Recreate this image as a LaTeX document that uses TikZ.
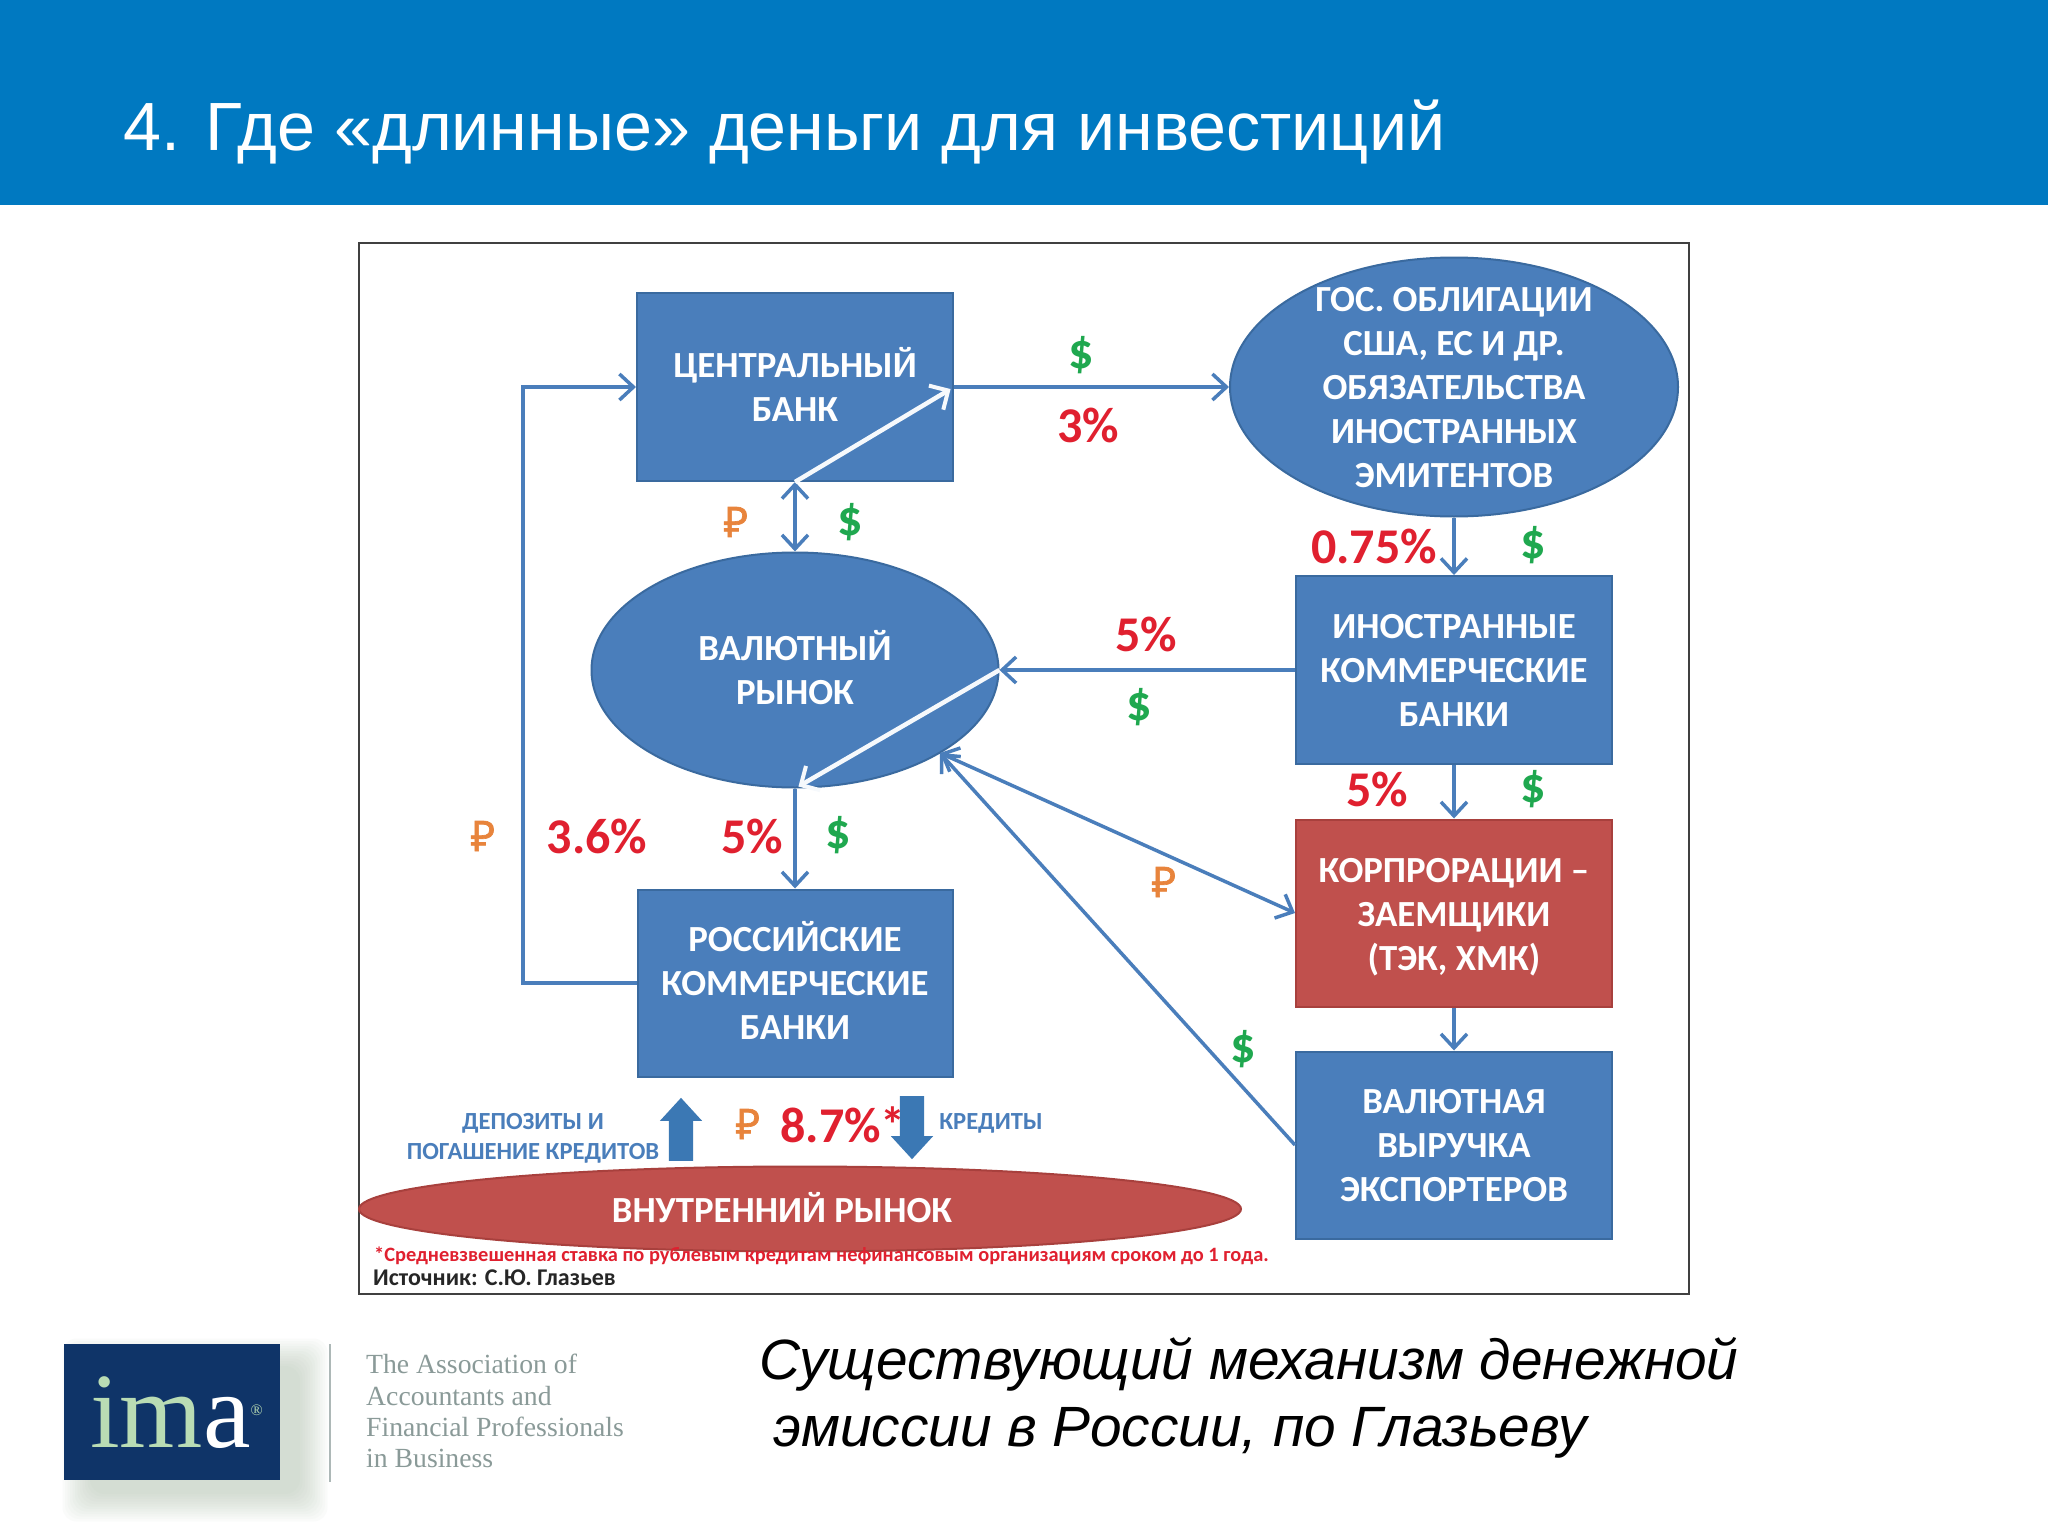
\documentclass[tikz,border=0pt]{standalone}
\usepackage{fontspec}
\setmainfont{Liberation Sans}
\newfontfamily\calb{Carlito}
\newfontfamily\rub[FakeBold=1.6]{Noto Sans}
\newfontfamily\serifb{Liberation Serif}
\usetikzlibrary{arrows.meta,shapes.geometric,shapes.arrows}
\definecolor{hdr}{HTML}{0079C1}
\definecolor{boxb}{HTML}{4A7EBB}
\definecolor{boxl}{HTML}{3A6A9F}
\definecolor{blka}{HTML}{3B78B4}
\definecolor{redb}{HTML}{C0504D}
\definecolor{redl}{HTML}{A8403D}
\definecolor{txtr}{HTML}{E0202F}
\definecolor{txtg}{HTML}{1FA84F}
\definecolor{txto}{HTML}{E8843C}
\definecolor{navy}{HTML}{0F3468}
\definecolor{lgr}{HTML}{B9DCB4}
\definecolor{gryt}{HTML}{8A9A98}
\tikzset{
  x=1pt,y=-1pt,
  bt/.style={font=\calb\bfseries\fontsize{36.8}{44}\selectfont,text=white,align=center,inner sep=0pt},
  blockbox/.style={draw=boxl,line width=2pt,fill=boxb,inner sep=0pt,bt},
  blue ell/.style={ellipse,draw=boxl,line width=2pt,fill=boxb,inner sep=0pt},
  conn/.style={draw=boxb,line width=3.5pt,-{Straight Barb[length=14pt,width=26pt,line width=3.5pt]}},
  conn2/.style={draw=boxb,line width=3.5pt,{Straight Barb[length=14pt,width=26pt,line width=3.5pt]}-{Straight Barb[length=14pt,width=26pt,line width=3.5pt]}},
  wconn/.style={draw=white!95!boxb,line width=4.5pt,shorten >=4pt,-{Straight Barb[length=14pt,width=28pt,line width=4pt]}},
  pct/.style={font=\calb\bfseries\fontsize{50}{54}\selectfont,text=txtr,inner sep=0pt},
  dol/.style={font=\calb\bfseries\fontsize{50}{50}\selectfont,text=txtg,inner sep=0pt},
  rb/.style={font=\rub\fontsize{42}{44}\selectfont,text=txto,inner sep=0pt},
  bluet/.style={font=\calb\bfseries\fontsize{24.6}{30}\selectfont,text=boxb,inner sep=0pt},
  block up/.style={single arrow,fill=blka,draw=none,minimum height=63pt,minimum width=0pt,inner xsep=0pt,inner ysep=12pt,single arrow head extend=9pt,single arrow tip angle=85},
  logot/.style={font=\serifb\fontsize{27.7}{31}\selectfont,text=gryt,inner sep=0pt,anchor=west},
}
\begin{document}
\begin{tikzpicture}
\useasboundingbox (0,0) rectangle (2048,1536);
\fill[white] (0,0) rectangle (2048,1536);
\fill[hdr] (0,0) rectangle (2048,205);
\node[anchor=west,text=white,inner sep=0pt,font=\fontsize{68.2}{72}\selectfont] (title) at (123,132) {4. Где «длинные» деньги для инвестиций};
\draw[line width=2pt,draw=black!75] (359,243) rectangle (1689,1294);
% shapes
\node[blockbox,minimum width=316pt,minimum height=188pt] (cb) at (795,387) {};
\node[bt] (cbt) at (795,384) {ЦЕНТРАЛЬНЫЙ\\БАНК};
\node[blue ell,minimum width=448pt,minimum height=259pt] (gos) at (1454,387) {};
\node[bt] (gost) at (1454,388) {ГОС. ОБЛИГАЦИИ\\США, ЕС И ДР.\\ОБЯЗАТЕЛЬСТВА\\ИНОСТРАННЫХ\\ЭМИТЕНТОВ};
\node[blue ell,minimum width=407pt,minimum height=235pt] (val) at (795,670) {};
\node[bt] (valt) at (795,668) {ВАЛЮТНЫЙ\\РЫНОК};
\node[blockbox,minimum width=316pt,minimum height=188pt] (fb) at (1454,670) {};
\node[bt] (fbt) at (1454,670) {ИНОСТРАННЫЕ\\КОММЕРЧЕСКИЕ\\БАНКИ};
\node[blockbox,draw=redl,fill=redb,minimum width=316pt,minimum height=187pt] (corp) at (1454,913) {};
\node[bt] (corpt) at (1454,917) {КОРПРОРАЦИИ –\\ЗАЕМЩИКИ\\(ТЭК, ХМК)};
\node[blockbox,minimum width=316pt,minimum height=187pt] (exp) at (1454,1145) {};
\node[bt] (expt) at (1454,1146) {ВАЛЮТНАЯ\\ВЫРУЧКА\\ЭКСПОРТЕРОВ};
\node[blockbox,minimum width=315pt,minimum height=187pt] (rus) at (795,983) {};
\node[bt] (rust) at (795,980) {РОССИЙСКИЕ\\КОММЕРЧЕСКИЕ\\БАНКИ};
\node[ellipse,draw=redl,line width=2pt,fill=redb,inner sep=0pt,minimum width=882pt,minimum height=85pt] (inner) at (800,1209) {};
\node[bt] (innert) at (782,1208) {ВНУТРЕННИЙ РЫНОК};
% connectors
\coordinate (valse) at (940,753);
\coordinate (ccorner) at (523,983);
\coordinate (ccorner2) at (523,387);
\draw[conn] (cb.east) -- (gos.west);
\draw[conn] (rus.west) -- (ccorner) -- (ccorner2) -- (cb.west);
\draw[conn2] (cb.south) -- (val.north);
\draw[wconn] (cb.south) -- (cb.east);
\draw[conn] (gos.south) -- (fb.north);
\draw[conn] (fb.west) -- (val.east);
\draw[conn] (val.south) -- (rus.north);
\draw[wconn] (val.east) -- (val.south);
\draw[conn] (fb.south) -- (corp.north);
\draw[conn] (corp.south) -- (exp.north);
\draw[conn2] (valse) -- (corp.west);
\draw[conn] (exp.west) -- (valse);
% labels
\node[dol] (l1) at (1081,355) {\$};
\node[pct] (l2) at (1088,425) {3\%};
\node[rb] (l3) at (736,522) {₽};
\node[dol] (l4) at (850,522) {\$};
\node[pct] (l5) at (1374,546) {0.75\%};
\node[dol] (l6) at (1533,545) {\$};
\node[pct] (l7) at (1146,634) {5\%};
\node[dol] (l8) at (1139,707) {\$};
\node[pct] (l9) at (1377,789) {5\%};
\node[dol] (l10) at (1533,789) {\$};
\node[rb] (l11) at (1164,882) {₽};
\node[dol] (l12) at (1243,1049) {\$};
\node[rb] (l13) at (483,836) {₽};
\node[pct] (l14) at (597,836) {3.6\%};
\node[pct] (l15) at (752,836) {5\%};
\node[dol] (l16) at (838,835) {\$};
\node[rb] (l17) at (748,1124) {₽};
\node[pct] (l18) at (843,1125) {8.7\%*};
\node[bluet] (l19) at (533,1123) {ДЕПОЗИТЫ И};
\node[bluet] (l20) at (533,1153) {ПОГАШЕНИЕ КРЕДИТОВ};
\node[bluet] (l21) at (991,1123) {КРЕДИТЫ};
\node[block up,rotate=90] (up) at (681,1136) {};
\node[block up,rotate=-90] (down) at (912,1121) {};
\node[anchor=west,inner sep=0pt,text=txtr,font=\calb\bfseries\fontsize{20.4}{22}\selectfont] (fn) at (374,1256) {*Средневзвешенная ставка по рублевым кредитам нефинансовым организациям сроком до 1 года.};
\node[anchor=west,inner sep=0pt,text=black!85,font=\calb\bfseries\fontsize{24}{26}\selectfont] (src) at (373,1278) {Источник: С.Ю. Глазьев};
% logo
\foreach \i in {0,...,11}
  \fill[gray!40!lgr,opacity=0.045,rounded corners=14pt] (90-\i*2.5,1366-\i*2.5) rectangle (300+\i*2.5,1494+\i*2.5);
\fill[navy] (64,1344) rectangle (280,1480);
\node[anchor=base west,inner sep=0pt,font=\serifb\fontsize{107}{107}\selectfont] (ima) at (90,1447) {\textcolor{lgr}{im}\textcolor{white}{a}\raisebox{32pt}{\textcolor{lgr}{\fontsize{16}{16}\selectfont®}}};
\draw[gryt!70,line width=1.5pt] (330,1344) -- (330,1482);
\node[logot] (t1) at (366,1364) {The Association of};
\node[logot] (t2) at (366,1396) {Accountants and};
\node[logot] (t3) at (366,1427) {Financial Professionals};
\node[logot] (t4) at (366,1458) {in Business};
\node[anchor=west,inner sep=0pt,text=black,font=\itshape\fontsize{56.8}{60}\selectfont] (c1) at (759,1364) {Существующий механизм денежной};
\node[anchor=west,inner sep=0pt,text=black,font=\itshape\fontsize{56.8}{60}\selectfont] (c2) at (773,1433) {эмиссии в России, по Глазьеву};
\end{tikzpicture}
\end{document}
